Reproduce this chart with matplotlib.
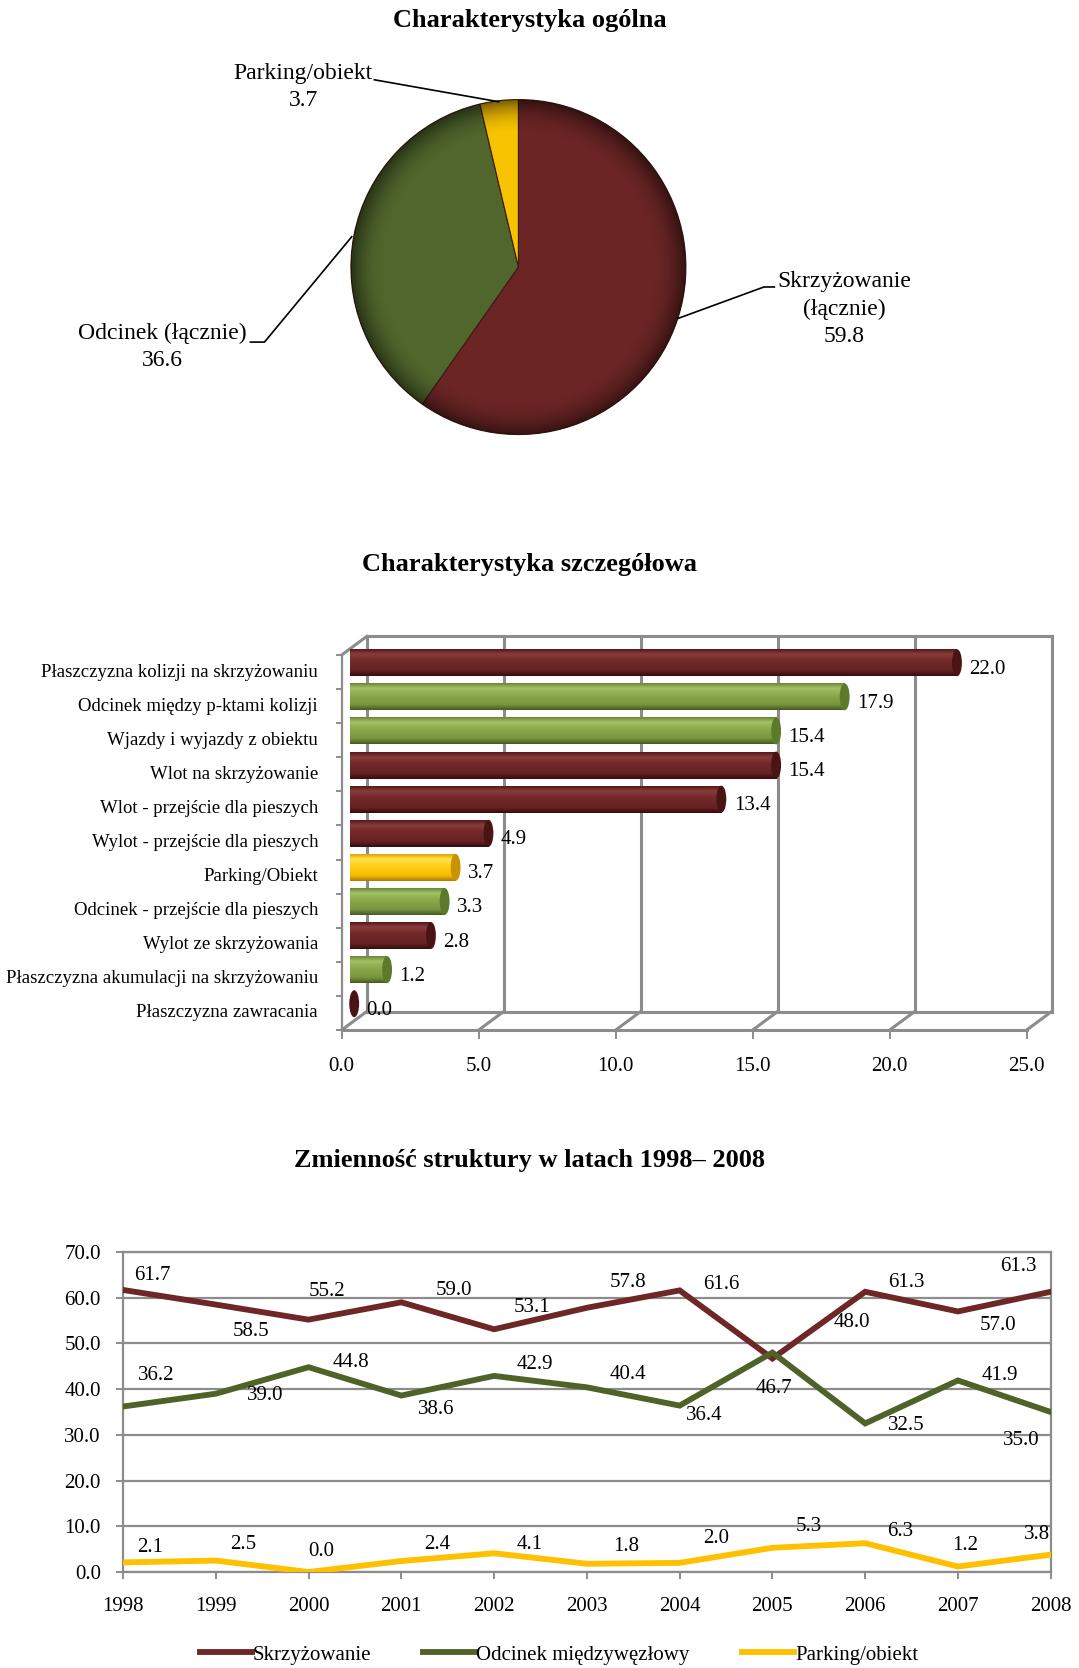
import numpy as np
import matplotlib.pyplot as plt
from matplotlib.colors import LinearSegmentedColormap
from matplotlib.patches import Ellipse, Circle

plt.rcParams['font.family'] = ['Liberation Serif', 'DejaVu Serif']

# --- Dane: charakterystyka ogólna (wykres kołowy) ---
pie_labels = ['Skrzyżowanie\n(łącznie)', 'Odcinek (łącznie)', 'Parking/obiekt']
pie_values = [59.8, 36.6, 3.7]

# --- Dane: charakterystyka szczegółowa (wykres słupkowy) ---
bar_categories = [
    'Płaszczyzna kolizji na skrzyżowaniu',
    'Odcinek między p-ktami kolizji',
    'Wjazdy i wyjazdy z obiektu',
    'Wlot na skrzyżowanie',
    'Wlot - przejście dla pieszych',
    'Wylot - przejście dla pieszych',
    'Parking/Obiekt',
    'Odcinek - przejście dla pieszych',
    'Wylot ze skrzyżowania',
    'Płaszczyzna akumulacji na skrzyżowaniu',
    'Płaszczyzna zawracania',
]
bar_values = [22.0, 17.9, 15.4, 15.4, 13.4, 4.9, 3.7, 3.3, 2.8, 1.2, 0.0]
bar_groups = ['S', 'O', 'O', 'S', 'S', 'S', 'P', 'O', 'S', 'O', 'S']
bar_ticks = [0.0, 5.0, 10.0, 15.0, 20.0, 25.0]

# --- Dane: zmienność struktury 1998-2008 (wykres liniowy) ---
years = [1998, 1999, 2000, 2001, 2002, 2003, 2004, 2005, 2006, 2007, 2008]
skrzyzowanie = [61.7, 58.5, 55.2, 59.0, 53.1, 57.8, 61.6, 46.7, 61.3, 57.0, 61.3]
odcinek = [36.2, 39.0, 44.8, 38.6, 42.9, 40.4, 36.4, 48.0, 32.5, 41.9, 35.0]
parking = [2.1, 2.5, 0.0, 2.4, 4.1, 1.8, 2.0, 5.3, 6.3, 1.2, 3.8]
line_yticks = [0, 10, 20, 30, 40, 50, 60, 70]

# przesunięcia etykiet danych (piksele: w prawo, w górę)
off_skrz = [(29, 14), (35, -27), (18, 28), (53, 12), (38, 22), (41, 25),
            (42, 6), (2, -30), (41, 9), (40, -14), (-32, 25)]
off_odc = [(33, 31), (49, -2), (42, 5), (35, -14), (41, 11), (41, 13),
           (25, -10), (79, 30), (41, -2), (42, 5), (-29, -28)]
off_park = [(27, 15), (27, 16), (13, 21), (36, 17), (36, 9), (39, 17),
            (36, 24), (36, 21), (35, 12), (7, 21), (-14, 20)]

# kolory
RED = '#6e2626'
GREEN = '#4f6228'
YELLOW = '#ffc000'
GRAY = '#8c8c8c'

fig = plt.figure(figsize=(10.79, 16.68), dpi=100)

# ================= Wykres kołowy =================
ax1 = fig.add_axes([0.2951, 0.7200, 0.3707, 0.2398])
ax1.pie(pie_values, colors=['#6b2525', '#50662c', '#f7c200'], startangle=90,
        counterclock=False, radius=1,
        wedgeprops=dict(linewidth=0.8, edgecolor='#3a1a10'))

# cieniowanie krawędzi (efekt 3D)
n = 400
yy, xx = np.mgrid[-1:1:n * 1j, -1:1:n * 1j]
rr = np.hypot(xx, yy)
shade = np.zeros((n, n, 4))
shade[..., 3] = np.clip((rr - 0.80) / 0.20, 0, 1) ** 2 * 0.5
im = ax1.imshow(shade, extent=(-1, 1, -1, 1), zorder=5, interpolation='bilinear')
im.set_clip_path(Circle((0, 0), 1, transform=ax1.transData))

pie_text_pos = [(1.946, -0.251), (-2.128, -0.478), (-1.284, 1.076)]
pie_leaders = [
    [(0.955, -0.306), (1.466, -0.119), (1.528, -0.119)],
    [(-0.995, 0.181), (-1.516, -0.448), (-1.60, -0.448)],
    [(-0.119, 0.987), (-0.860, 1.118)],
]
for lab, val, pos, lead in zip(pie_labels, pie_values, pie_text_pos, pie_leaders):
    ax1.text(pos[0], pos[1], f'{lab}\n{val:.1f}', ha='center', va='center',
             fontsize=17, linespacing=1.4)
    lx, ly = zip(*lead)
    ax1.plot(lx, ly, color='black', lw=1.2, clip_on=False, zorder=6)

ax1.set_xlim(-1.194, 1.194)
ax1.set_ylim(-1.194, 1.194)
ax1.set_aspect('equal')
ax1.axis('off')

# ================= Wykres słupkowy (pseudo-3D) =================
ax2 = fig.add_axes([0.2913, 0.36817, 0.6983, 0.25552])
ax2.axis('off')

dx, dy = 0.912, 0.543   # głębokość (jednostki wartości / wiersze)
nrow = len(bar_categories)
bottom = nrow - 0.5
top = -0.5
wall = dict(color=GRAY, lw=2.2, solid_capstyle='projecting', zorder=1)

# tylna ściana
for t in bar_ticks:
    ax2.plot([t + dx, t + dx], [top - dy, bottom - dy], **wall)
    ax2.plot([t, t + dx], [bottom, bottom - dy], **wall)
ax2.plot([dx, bar_ticks[-1] + dx], [top - dy, top - dy], **wall)
ax2.plot([dx, bar_ticks[-1] + dx], [bottom - dy, bottom - dy], **wall)
ax2.plot([0, bar_ticks[-1]], [bottom, bottom], **wall)
ax2.plot([0, dx], [top, top - dy], **wall)
ax2.plot([0, 0], [top, bottom], color=GRAY, lw=1.6, zorder=1)

# znaczniki osi
for k in range(nrow + 1):
    ax2.plot([-0.16, 0], [k - 0.5, k - 0.5], color=GRAY, lw=1.4, zorder=1)
for t in bar_ticks:
    ax2.plot([t, t], [bottom, bottom + 0.22], color=GRAY, lw=1.4, zorder=1)
    ax2.text(t, bottom + 1.08, f'{t:.1f}', ha='center', va='center', fontsize=15)

cmaps = {
    'S': LinearSegmentedColormap.from_list('s', [(0, '#521a1a'), (0.18, '#8a3c3c'), (0.4, '#742a2a'),
                                                 (0.8, '#652222'), (1, '#360c0c')]),
    'O': LinearSegmentedColormap.from_list('o', [(0, '#6c8733'), (0.18, '#a3c066'), (0.4, '#8dad4e'),
                                                 (0.8, '#78953d'), (1, '#465b20')]),
    'P': LinearSegmentedColormap.from_list('p', [(0, '#e0a600'), (0.18, '#ffe04f'), (0.4, '#ffd31c'),
                                                 (0.8, '#f4bc00'), (1, '#ad7d00')]),
}
caps = {'S': '#4a1414', 'O': '#5d7a2a', 'P': '#c89200'}

h = 0.79
grad = np.linspace(0, 1, 64).reshape(-1, 1)
for i, (cat, v, g) in enumerate(zip(bar_categories, bar_values, bar_groups)):
    yc = i - dy / 2
    x0 = dx / 2
    x1 = v + dx / 2
    if v > 0:
        ax2.imshow(grad, cmap=cmaps[g], extent=(x0 - 0.15, x1, yc + h / 2, yc - h / 2),
                   aspect='auto', interpolation='bilinear', zorder=3)
    ax2.add_patch(Ellipse((x1, yc), 0.36, h, facecolor=caps[g], edgecolor='none', zorder=4))
    ax2.text(x1 + 0.45, i - 0.08, f'{v:.1f}', ha='left', va='center', fontsize=15, zorder=5)
    ax2.text(-0.865, i, cat, ha='right', va='center', fontsize=13.5)

ax2.set_xlim(-1, 26.5)
ax2.set_ylim(11.2, -1.3)

# ================= Wykres liniowy =================
ax3 = fig.add_axes([0.1140, 0.05755, 0.8598, 0.19185])
series = [
    (skrzyzowanie, RED, 'Skrzyżowanie', off_skrz),
    (odcinek, GREEN, 'Odcinek międzywęzłowy', off_odc),
    (parking, YELLOW, 'Parking/obiekt', off_park),
]
for vals, col, lab, offs in series:
    ax3.plot(years, vals, color=col, lw=4.2, label=lab, solid_joinstyle='miter', zorder=3)
    for x, y, o in zip(years, vals, offs):
        ax3.annotate(f'{y:.1f}', (x, y), xytext=o, textcoords='offset pixels',
                     ha='center', va='center', fontsize=15, zorder=4)

ax3.set_xlim(years[0], years[-1])
ax3.set_ylim(line_yticks[0], line_yticks[-1])
ax3.set_xticks(years)
ax3.set_yticks(line_yticks)
ax3.set_yticklabels([f'{t:.1f}' for t in line_yticks])
ax3.grid(True, axis='y', color=GRAY, lw=1.6, zorder=0)
for sp in ax3.spines.values():
    sp.set_color(GRAY)
    sp.set_linewidth(1.6)
ax3.tick_params(axis='both', colors=GRAY, length=5, width=1.4, labelcolor='black', labelsize=15)
ax3.tick_params(axis='y', pad=11)
ax3.tick_params(axis='x', pad=13)

fig.legend(loc='center', bbox_to_anchor=(0.518, 0.0078), ncol=3, frameon=False,
           fontsize=15, handlelength=2.5, handletextpad=0.05, columnspacing=2.5,
           borderpad=0)

# ================= Tytuły =================
fig.text(0.491, 1 - 21 / 1668, 'Charakterystyka ogólna', ha='center', va='center',
         fontsize=19, fontweight='bold')
fig.text(0.491, 1 - 564 / 1668, 'Charakterystyka szczegółowa', ha='center', va='center',
         fontsize=19, fontweight='bold')
fig.text(0.491, 1 - 1161 / 1668, 'Zmienność struktury w latach 1998– 2008', ha='center',
         va='center', fontsize=19, fontweight='bold')

fig.savefig('out.png', dpi=100)
